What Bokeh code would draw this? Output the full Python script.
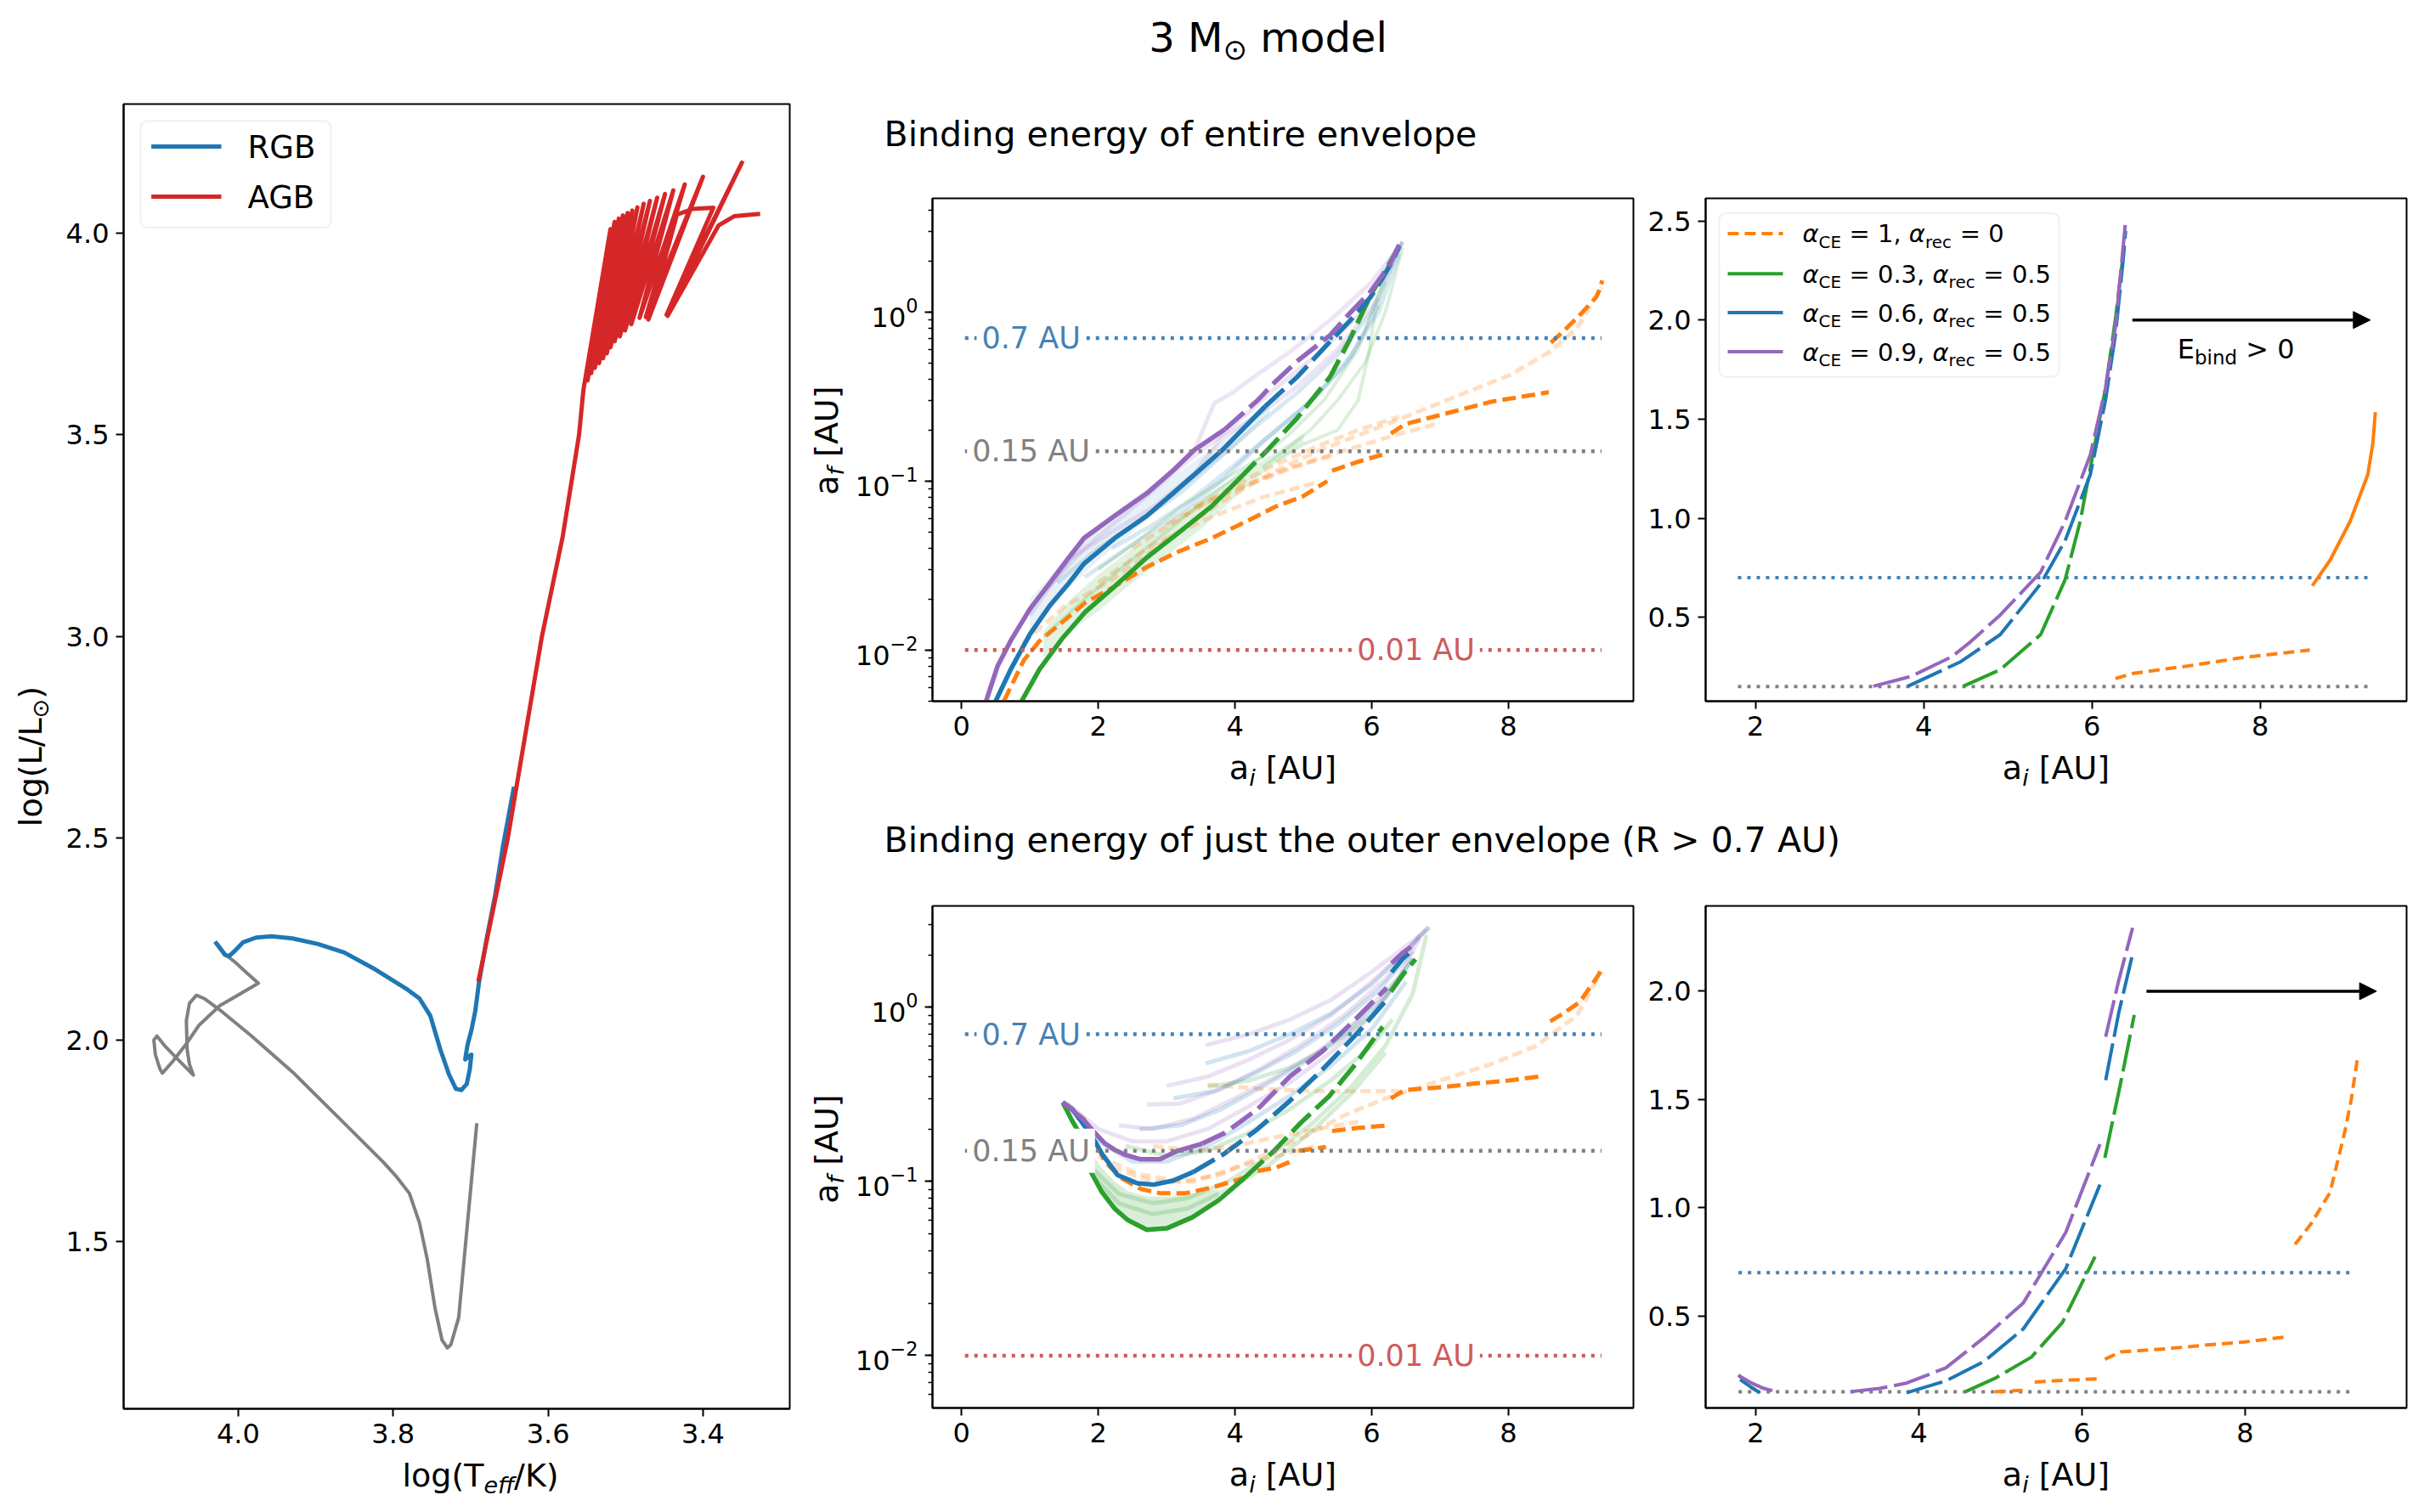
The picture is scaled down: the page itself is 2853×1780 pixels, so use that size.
import numpy as np
from bokeh.plotting import figure
from bokeh.layouts import row, column
from bokeh.models import Range1d, Label, BoxAnnotation, Arrow, NormalHead, PrintfTickFormatter
from bokeh.embed import file_html
from bokeh.resources import INLINE

FONT = "DejaVu Sans"
BLUE = "#1f77b4"; ORANGE = "#ff7f0e"; GREEN = "#2ca02c"; RED = "#d62728"
PURPLE = "#9467bd"; GRAY = "#808080"; STEEL = "#4682b4"; INDIAN = "#cd5c5c"

# ---------------- HR diagram (log Teff, log L) ----------------
pms_logT = [3.692, 3.7154, 3.7255, 3.730, 3.737, 3.746, 3.756, 3.766, 3.779, 3.796, 3.813, 3.870,
            3.930, 3.984, 4.024, 4.044, 4.054, 4.063, 4.067, 4.066, 4.063, 4.058, 4.078, 4.095,
            4.105, 4.109, 4.107, 4.101, 4.098, 4.085, 4.068, 4.051, 4.024, 3.997, 3.974, 3.987,
            4.004, 4.016, 4.028]
pms_logL = [1.794, 1.312, 1.245, 1.237, 1.257, 1.336, 1.457, 1.547, 1.620, 1.662, 1.698, 1.807,
            1.921, 2.012, 2.075, 2.103, 2.111, 2.091, 2.048, 1.976, 1.940, 1.913, 1.952, 1.986,
            2.010, 2.000, 1.964, 1.928, 1.918, 1.946, 1.988, 2.036, 2.085, 2.115, 2.141, 2.163,
            2.193, 2.211, 2.239]
rgb_logT = [4.030, 4.024, 4.017, 4.012, 4.005, 3.994, 3.977, 3.957, 3.930, 3.897, 3.863, 3.823,
            3.783, 3.766, 3.752, 3.739, 3.728, 3.719, 3.712, 3.705, 3.701, 3.699, 3.707, 3.704,
            3.699, 3.694, 3.689, 3.679, 3.668, 3.658, 3.644]
rgb_logL = [2.244, 2.229, 2.211, 2.208, 2.220, 2.242, 2.254, 2.257, 2.252, 2.238, 2.217, 2.175,
            2.127, 2.103, 2.060, 1.976, 1.915, 1.879, 1.876, 1.891, 1.928, 1.964, 1.952, 1.988,
            2.024, 2.072, 2.145, 2.254, 2.362, 2.483, 2.628]
agb_logT = [3.690, 3.652, 3.608, 3.581, 3.560, 3.5544, 3.5195, 3.5490, 3.5141, 3.5443, 3.5087,
            3.5396, 3.5034, 3.5342, 3.4973, 3.5289, 3.4913, 3.5242, 3.4846, 3.5195, 3.4765,
            3.5141, 3.4685, 3.5074, 3.4591, 3.5007, 3.4490, 3.4926, 3.4383, 3.4819, 3.4235,
            3.4738, 3.4000, 3.4705, 3.4336, 3.4134, 3.3866, 3.4470, 3.3497, 3.4456, 3.3799,
            3.3597, 3.3262]
agb_logL = [2.145, 2.500, 3.000, 3.249, 3.500, 3.611, 4.010, 3.635, 4.028, 3.653, 4.036,
            3.666, 4.044, 3.678, 4.050, 3.690, 4.056, 3.702, 4.064, 3.717, 4.073,
            3.732, 4.080, 3.744, 4.088, 3.759, 4.097, 3.774, 4.106, 3.790, 4.121,
            3.792, 4.140, 3.786, 4.046, 4.060, 4.063, 3.798, 4.175, 3.795, 4.019,
            4.042, 4.048]
hr_xticks = [4.0, 3.8, 3.6, 3.4]
hr_yticks = [1.5, 2.0, 2.5, 3.0, 3.5, 4.0]
hr_legend_labels = ["RGB", "AGB"]

# ---------------- a_f vs a_i : binding energy of entire envelope ----------------
ent_p09_ai = [0.36, 0.525, 0.716, 1.00, 1.29, 1.57, 1.79, 2.24, 2.71, 3.09, 3.40, 3.85, 4.33, 4.55, 4.91, 5.39, 5.68, 5.98, 6.16, 6.28, 6.40]
ent_p09_af = [0.005, 0.008, 0.0113, 0.0175, 0.0249, 0.0353, 0.0459, 0.0622, 0.0845, 0.115, 0.152, 0.202, 0.30, 0.374, 0.512, 0.728, 0.984, 1.319, 1.654, 1.969, 2.50]
ent_p06_ai = [0.50, 0.72, 1.00, 1.29, 1.57, 1.79, 2.24, 2.71, 3.09, 3.47, 3.81, 4.44, 4.91, 5.39, 5.68, 5.98, 6.16, 6.28, 6.37, 6.40]
ent_p06_af = [0.005, 0.0077, 0.0124, 0.0183, 0.0249, 0.0324, 0.0459, 0.0622, 0.0845, 0.115, 0.152, 0.276, 0.413, 0.669, 0.886, 1.22, 1.594, 1.929, 2.30, 2.45]
ent_p03_ai = [0.88, 1.14, 1.48, 1.81, 2.24, 2.71, 3.19, 3.66, 4.04, 4.47, 4.91, 5.39, 5.68, 5.86, 6.01, 6.16, 6.28, 6.38]
ent_p03_af = [0.005, 0.0077, 0.0118, 0.0168, 0.0238, 0.0353, 0.050, 0.071, 0.101, 0.152, 0.236, 0.413, 0.689, 0.984, 1.319, 1.654, 2.008, 2.36]
ent_o_ai = [[0.62, 0.91, 1.14, 1.48, 1.81, 2.24, 2.71, 3.19, 3.66, 4.14, 4.61, 4.99, 5.35],
            [5.42, 5.80, 6.23],
            [6.28, 6.49, 7.17, 7.76, 8.59],
            [8.62, 8.83, 9.07, 9.28, 9.34, 9.37]]
ent_o_af = [[0.005, 0.0087, 0.0113, 0.0147, 0.0191, 0.0238, 0.031, 0.0385, 0.0459, 0.057, 0.071, 0.081, 0.100],
            [0.115, 0.130, 0.146],
            [0.191, 0.217, 0.256, 0.295, 0.335],
            [0.659, 0.787, 0.984, 1.22, 1.378, 1.535]]
# faint individual tracks and shaded spreads
ent_fp_ai = [[1.0, 1.3, 1.8, 2.4, 3.0, 3.4, 3.55, 3.7, 3.95, 4.3, 4.8, 5.4, 6.0, 6.45],
             [1.2, 1.8, 2.6, 3.3, 3.9, 4.5, 5.2, 5.8, 6.4],
             [1.6, 2.2, 2.8, 3.4, 3.8, 4.3, 4.9, 5.5, 6.1]]
ent_fp_af = [[0.016, 0.024, 0.045, 0.07, 0.105, 0.15, 0.21, 0.29, 0.33, 0.42, 0.58, 0.9, 1.5, 2.6],
             [0.022, 0.04, 0.075, 0.13, 0.2, 0.33, 0.56, 0.95, 2.4],
             [0.035, 0.05, 0.07, 0.11, 0.18, 0.24, 0.36, 0.6, 1.2]]
ent_fb_ai = [[1.4, 2.0, 2.6, 3.2, 3.8, 4.3, 4.9, 5.5, 6.0, 6.45],
             [1.8, 2.5, 3.2, 3.8, 4.4, 5.0, 5.6, 6.1, 6.4],
             [2.2, 2.8, 3.4, 4.0, 4.6, 5.2, 5.7, 6.1]]
ent_fb_af = [[0.025, 0.04, 0.058, 0.085, 0.14, 0.21, 0.33, 0.56, 1.0, 2.6],
             [0.027, 0.042, 0.065, 0.1, 0.17, 0.27, 0.48, 1.0, 2.2],
             [0.04, 0.055, 0.08, 0.125, 0.2, 0.32, 0.55, 1.1]]
ent_fg_ai = [[1.2, 1.8, 2.4, 3.0, 3.6, 4.2, 4.8, 5.3, 5.8, 6.1, 6.45],
             [4.4, 4.8, 5.1, 5.5, 5.9, 6.2, 6.45],
             [4.6, 5.0, 5.5, 5.8, 5.95, 6.05, 6.2],
             [2.0, 2.6, 3.2, 3.8, 4.4]]
ent_fg_af = [[0.012, 0.02, 0.032, 0.05, 0.08, 0.12, 0.19, 0.3, 0.6, 1.3, 2.6],
             [0.12, 0.16, 0.2, 0.3, 0.5, 1.0, 2.4],
             [0.13, 0.165, 0.2, 0.3, 0.55, 1.0, 1.5],
             [0.03, 0.045, 0.07, 0.1, 0.14]]
ent_fo_ai = [[0.9, 1.5, 2.2, 3.0, 3.8, 4.5, 5.2, 6.0, 7.0, 8.0, 8.6, 9.0, 9.36],
             [2.5, 3.2, 3.8, 4.5, 5.2, 5.8, 6.4],
             [3.0, 3.6, 4.2, 4.8, 5.4],
             [2.0, 2.8, 3.6, 4.4, 5.2],
             [3.4, 4.0, 4.6, 5.2, 5.8, 6.4, 7.0]]
ent_fo_af = [[0.011, 0.018, 0.026, 0.045, 0.075, 0.11, 0.15, 0.2, 0.29, 0.42, 0.58, 0.8, 1.4],
             [0.04, 0.06, 0.085, 0.12, 0.16, 0.2, 0.24],
             [0.055, 0.075, 0.095, 0.12, 0.14],
             [0.025, 0.042, 0.06, 0.08, 0.098],
             [0.07, 0.09, 0.11, 0.135, 0.16, 0.19, 0.22]]
ent_band_g_ai = [1.2, 1.6, 2.0, 2.5, 3.0, 3.5, 4.0, 4.5, 5.0]
ent_band_g_lo = [0.009, 0.013, 0.017, 0.025, 0.036, 0.052, 0.08, 0.12, 0.17]
ent_band_g_hi = [0.013, 0.02, 0.028, 0.04, 0.056, 0.078, 0.105, 0.14, 0.19]
ent_band_b_ai = [1.0, 1.5, 2.0, 2.5, 3.0, 3.5, 4.0, 4.5]
ent_band_b_lo = [0.012, 0.022, 0.034, 0.05, 0.074, 0.11, 0.16, 0.25]
ent_band_b_hi = [0.02, 0.034, 0.052, 0.072, 0.1, 0.14, 0.2, 0.3]

# ---------------- a_f vs a_i : binding energy of outer envelope (R > 0.7 AU) ----------------
out_p09_ai = [1.48, 1.62, 1.79, 1.95, 2.10, 2.24, 2.40, 2.62, 2.90, 3.16, 3.52, 3.85, 4.33, 4.80, 5.28, 5.80, 6.22]
out_p09_af = [0.285, 0.258, 0.225, 0.19, 0.165, 0.152, 0.142, 0.134, 0.134, 0.150, 0.165, 0.19, 0.26, 0.40, 0.56, 0.885, 1.293]
out_p09b_ai = [6.29, 6.45, 6.62]
out_p09b_af = [1.79, 2.05, 2.293]
out_p06_ai = [1.48, 1.62, 1.81, 1.95, 2.05, 2.28, 2.57, 2.81, 3.09, 3.38, 3.85, 4.33, 4.80, 5.28, 5.80, 6.22]
out_p06_af = [0.285, 0.26, 0.206, 0.17, 0.145, 0.109, 0.0977, 0.0959, 0.101, 0.113, 0.145, 0.20, 0.29, 0.44, 0.718, 1.107]
out_p06b_ai = [6.29, 6.45, 6.62]
out_p06b_af = [1.589, 1.90, 2.172]
out_p03a_ai = [1.48, 1.62, 1.72]
out_p03a_af = [0.285, 0.222, 0.191]
out_p03_ai = [1.88, 2.05, 2.24, 2.43, 2.71, 3.00, 3.38, 3.76, 4.14, 4.57, 4.95, 5.38, 5.76, 6.16]
out_p03_af = [0.116, 0.0873, 0.0698, 0.0601, 0.0528, 0.0538, 0.0624, 0.078, 0.105, 0.150, 0.215, 0.31, 0.47, 0.774]
out_p03b_ai = [6.28, 6.47, 6.64]
out_p03b_af = [1.23, 1.57, 1.89]
out_o_ai = [[1.48, 1.79, 1.90, 2.02, 2.09, 2.33, 2.62, 2.90, 3.28, 3.66, 4.00, 4.23],
            [4.33, 4.60, 4.85],
            [4.93, 5.15, 5.33],
            [5.42, 5.80, 6.23],
            [6.28, 6.47, 7.03, 7.50, 8.00, 8.52],
            [8.61, 8.80, 9.04, 9.22, 9.30, 9.38]]
out_o_af = [[0.285, 0.228, 0.18, 0.152, 0.131, 0.105, 0.0906, 0.0857, 0.0857, 0.0923, 0.101, 0.109],
            [0.115, 0.120, 0.132],
            [0.150, 0.154, 0.158],
            [0.195, 0.203, 0.210],
            [0.300, 0.334, 0.348, 0.365, 0.380, 0.404],
            [0.830, 0.922, 1.070, 1.350, 1.500, 1.700]]
out_fp_ai = [[3.57, 4.2, 4.8, 5.4, 6.0, 6.6, 6.85], [3.0, 3.6, 4.2, 4.8, 5.4, 6.0, 6.6, 6.8],
             [2.71, 3.2, 3.8, 4.4, 5.0, 5.6, 6.2, 6.7], [2.3, 2.8, 3.4, 4.0, 4.6, 5.2, 5.8, 6.4, 6.7],
             [1.55, 2.0, 2.5, 3.0, 3.6, 4.2, 4.8, 5.4, 6.0, 6.5]]
out_fp_af = [[0.607, 0.7, 0.85, 1.1, 1.6, 2.4, 2.86], [0.354, 0.4, 0.5, 0.65, 0.9, 1.4, 2.3, 2.8],
             [0.277, 0.28, 0.34, 0.45, 0.62, 0.9, 1.45, 2.6], [0.21, 0.2, 0.23, 0.3, 0.4, 0.55, 0.85, 1.5, 2.5],
             [0.28, 0.2, 0.17, 0.17, 0.2, 0.27, 0.37, 0.55, 0.9, 1.6]]
out_fb_ai = [[3.57, 4.2, 4.8, 5.4, 6.0, 6.6, 6.83], [3.1, 3.7, 4.3, 4.9, 5.5, 6.1, 6.6],
             [2.6, 3.2, 3.8, 4.4, 5.0, 5.6, 6.2, 6.6], [1.6, 2.0, 2.5, 3.0, 3.6, 4.2, 4.8, 5.4, 6.0, 6.5]]
out_fb_af = [[0.476, 0.56, 0.7, 0.92, 1.35, 2.3, 2.9], [0.3, 0.33, 0.42, 0.56, 0.8, 1.25, 2.1],
             [0.2, 0.21, 0.26, 0.35, 0.48, 0.7, 1.15, 1.9], [0.26, 0.17, 0.13, 0.13, 0.16, 0.22, 0.31, 0.46, 0.75, 1.4]]
out_fg_ai = [[1.9, 2.3, 2.8, 3.3, 3.9, 4.5, 5.1, 5.7, 6.2, 6.6, 6.8], [1.9, 2.3, 2.8, 3.3, 3.9, 4.5, 5.1, 5.7, 6.2],
             [2.4, 3.0, 3.6, 4.2, 4.8, 5.4, 6.0, 6.3], [3.6, 4.2, 4.8, 5.4, 6.0, 6.3, 6.6]]
out_fg_af = [[0.12, 0.085, 0.075, 0.08, 0.1, 0.14, 0.21, 0.35, 0.6, 1.2, 2.6], [0.11, 0.075, 0.065, 0.07, 0.09, 0.125, 0.19, 0.32, 0.55],
             [0.16, 0.14, 0.15, 0.19, 0.26, 0.38, 0.6, 0.85], [0.35, 0.38, 0.45, 0.6, 0.9, 1.3, 1.9]]
out_fo_ai = [[2.0, 2.6, 3.2, 3.8, 4.4, 5.0, 5.6, 6.2, 7.0, 7.8, 8.4, 9.0, 9.36], [3.6, 4.4, 5.2, 6.0, 6.4],
             [2.8, 3.4, 4.0, 4.6, 5.2, 5.8], [2.2, 2.8, 3.4, 4.0, 4.6, 5.2]]
out_fo_af = [[0.14, 0.11, 0.1, 0.11, 0.14, 0.18, 0.24, 0.3, 0.38, 0.48, 0.6, 0.9, 1.6], [0.36, 0.34, 0.33, 0.33, 0.33],
             [0.16, 0.15, 0.16, 0.18, 0.2, 0.22], [0.12, 0.1, 0.1, 0.12, 0.14, 0.16]]
out_band_g_ai = [1.88, 2.05, 2.24, 2.43, 2.71, 3.00, 3.38, 3.76]
out_band_g_lo = [0.116, 0.0873, 0.0698, 0.0601, 0.0528, 0.0538, 0.0624, 0.078]
out_band_g_hi = [0.15, 0.12, 0.10, 0.088, 0.082, 0.082, 0.085, 0.09]

# reference separations [AU] and their extents
sep_levels = [0.7, 0.15, 0.01]
sep_labels = ["0.7 AU", "0.15 AU", "0.01 AU"]
sep_label_ai = [0.22, 0.08, 5.71]
mid_sep_extent = [0.05, 9.36]
top_right_sep_extent = [1.79, 9.31]
bot_right_sep_extent = [1.79, 9.35]
mid_xticks = [0, 2, 4, 6, 8]
right_xticks = [2, 4, 6, 8]
tr_yticks = [0.5, 1.0, 1.5, 2.0, 2.5]
br_yticks = [0.5, 1.0, 1.5, 2.0]
tr_arrow_ai = [6.48, 9.31]
br_arrow_ai = [6.79, 9.61]
arrow_af = 2.0
ebind_pos = [7.015, 1.807]
alpha_legend = [("1", "0"), ("0.3", "0.5"), ("0.6", "0.5"), ("0.9", "0.5")]

# ---------------- text helpers ----------------
CHAR_W = {' ': .318, '.': .318, ',': .318, '=': .838, '>': .838, '(': .390, ')': .390, '[': .390, ']': .390,
          '/': .337, 'a': .613, 'b': .635, 'c': .550, 'd': .635, 'e': .615, 'f': .352, 'g': .635, 'h': .634,
          'i': .278, 'j': .278, 'k': .579, 'l': .278, 'm': .974, 'n': .634, 'o': .612, 'p': .635, 'r': .411,
          's': .521, 't': .392, 'u': .634, 'v': .592, 'y': .592, 'A': .684, 'B': .686, 'C': .698, 'E': .632,
          'G': .775, 'K': .656, 'L': .557, 'M': .863, 'R': .695, 'T': .611, 'U': .732, 'α': .659, '⊙': .838}
for _d in "0123456789":
    CHAR_W[_d] = .636
MID = 0.346  # em-box middle above the baseline (DejaVu Sans)


def run_width(t, s):
    return sum(CHAR_W.get(c, 0.6) for c in t) * s


def rich(p, x, y, runs, dx=0.0, dy=0.0, align="left", rotate=False, color="black"):
    """(dx, dy) is the baseline start in screen pixels relative to data point (x, y)."""
    total = sum(run_width(t, s) for t, s, r, st in runs)
    adv = {"left": 0.0, "center": -total / 2.0, "right": -total}[align]
    for t, s, r, st in runs:
        lead = len(t) - len(t.lstrip(" "))
        core = t.strip(" ")
        adv += lead * CHAR_W[" "] * s
        up = r + MID * s
        if core:
            if rotate:
                xo, yo, ang = dx - up, dy + adv, np.pi / 2
            else:
                xo, yo, ang = dx + adv, dy + up, 0.0
            p.add_layout(Label(x=x, y=y, x_offset=xo, y_offset=yo, text=core, angle=ang,
                               text_font=FONT, text_font_size=f"{s}px", text_font_style=st,
                               text_color=color, text_align="left", text_baseline="middle"))
        adv += run_width(t, s) - lead * CHAR_W[" "] * s


def text_fig(w, h):
    p = figure(width=w, height=h, x_range=Range1d(0, w), y_range=Range1d(0, h),
               x_axis_type=None, y_axis_type=None, output_backend="svg", toolbar_location=None,
               min_border=0, min_border_left=0, min_border_right=0, min_border_top=0, min_border_bottom=0)
    p.outline_line_color = None
    p.background_fill_color = "white"
    p.border_fill_color = "white"
    return p


GEOM = {}


def panel(name, w, h, bl, br_, bt, bb, xr, yr, ylog=False, xticks=None, yticks=None, xfmt=None, yfmt=None):
    p = figure(width=w, height=h, x_range=Range1d(*xr), y_range=Range1d(*yr),
               y_axis_type="log" if ylog else "linear", output_backend="svg", toolbar_location=None,
               min_border_left=bl, min_border_right=br_, min_border_top=bt, min_border_bottom=bb)
    p.xgrid.visible = False
    p.ygrid.visible = False
    p.outline_line_color = "black"
    p.outline_line_width = 2
    p.outline_line_alpha = 1.0
    p.background_fill_color = "white"
    p.border_fill_color = "white"
    for ax in (p.xaxis[0], p.yaxis[0]):
        ax.axis_line_width = 2
        ax.axis_line_color = "black"
        ax.major_tick_line_width = 2
        ax.major_tick_line_color = "black"
        ax.major_tick_in = 0
        ax.major_tick_out = 9
        ax.minor_tick_in = 0
        ax.minor_tick_out = 0
        ax.major_label_text_font = FONT
        ax.major_label_text_font_size = "32px"
        ax.major_label_text_color = "black"
        ax.major_label_standoff = 8
    if ylog:
        p.yaxis[0].minor_tick_out = 5
        p.yaxis[0].minor_tick_line_width = 1.5
        p.yaxis[0].minor_tick_line_color = "black"
    if xticks is not None:
        p.xaxis[0].ticker = xticks
    if yticks is not None:
        p.yaxis[0].ticker = yticks
    if xfmt is not None:
        p.xaxis[0].formatter = PrintfTickFormatter(format=xfmt)
    if yfmt is not None:
        p.yaxis[0].formatter = PrintfTickFormatter(format=yfmt)
    GEOM[name] = (w - bl - br_, h - bt - bb)
    return p


def px_x(p, name, px):
    fw = GEOM[name][0]
    return p.x_range.start + px / fw * (p.x_range.end - p.x_range.start)


def px_y(p, name, py):
    fh = GEOM[name][1]
    return p.y_range.end - py / fh * (p.y_range.end - p.y_range.start)


AI_RUNS = [("a", 38, 0, "normal"), ("i", 27, -7, "italic"), (" [AU]", 38, 0, "normal")]
AF_RUNS = [("a", 38, 0, "normal"), ("f", 27, -6, "italic"), (" [AU]", 38, 0, "normal")]

# ================= figure pieces (page pixels: origin top-left) =================
title_fig = text_fig(2850, 90)
rich(title_fig, 1492, 30, [("3 M", 48, 0, "normal"), ("⊙", 34, -9, "normal"), (" model", 48, 0, "normal")],
     align="center")

# ---- left block: x 0..945, y 90..1776 ----
hr_ylab = text_fig(66, 1686)
rich(hr_ylab, 49, 886, [("log(L/L", 38, 0, "normal"), ("⊙", 27, -7, "normal"), (")", 38, 0, "normal")],
     align="center", rotate=True)

hr = panel("hr", 879, 1626, 79, 16, 32, 58, (4.148, 3.288), (1.086, 4.32), xticks=hr_xticks, yticks=hr_yticks,
           xfmt="%.1f", yfmt="%.1f")
hr.line(pms_logT, pms_logL, line_color=GRAY, line_width=4, line_join="round")
hr.line(rgb_logT, rgb_logL, line_color=BLUE, line_width=5, line_join="round")
hr.line(agb_logT, agb_logL, line_color=RED, line_width=5, line_join="round")
hr.add_layout(BoxAnnotation(left=px_x(hr, "hr", 20), right=px_x(hr, "hr", 244),
                            top=px_y(hr, "hr", 20), bottom=px_y(hr, "hr", 145.5),
                            fill_color="white", fill_alpha=0.8, line_color="#cccccc", line_width=2,
                            border_radius=8, level="underlay"))
for k, (lab, col) in enumerate(zip(hr_legend_labels, [BLUE, RED])):
    yy = 50 + 59 * k
    hr.line([px_x(hr, "hr", 32.6), px_x(hr, "hr", 115)], [px_y(hr, "hr", yy)] * 2, line_color=col, line_width=5)
    rich(hr, hr.x_range.start, hr.y_range.end, [(lab, 37, 0, "normal")], dx=146, dy=-(yy + 0.365 * 37))

hr_xlab = text_fig(879, 60)
rich(hr_xlab, 471, 26, [("log(T", 38, 0, "normal"), ("eff", 27, -7, "italic"), ("/K)", 38, 0, "normal")],
     align="center")


# ---- helpers for the a_f / a_i panels ----
def split_draw(p, xs, ys, split, color, lw=5.5, dash="30 9"):
    xs = np.asarray(xs, float)
    ys = np.asarray(ys, float)
    k = int(np.searchsorted(xs, split, side="right"))
    p.line(xs[:k + 1], ys[:k + 1], line_color=color, line_width=lw)
    p.line(xs[k:], ys[k:], line_color=color, line_width=lw, line_dash=dash)


def seps(p, extent, levels, colors, labels=None, label_x=None, lw=4.5):
    for i, (lv, col) in enumerate(zip(levels, colors)):
        p.line(extent, [lv, lv], line_color=col, line_width=lw, line_dash="4 7")
        if labels is not None:
            p.add_layout(Label(x=label_x[i], y=lv, text=labels[i], text_font=FONT, text_font_size="35px",
                               text_color=col, text_align="left", text_baseline="middle",
                               background_fill_color="white", padding=6))


def faint(p, xs, ys, col, dash="solid", alpha=0.2, lw=5):
    p.multi_line(xs, ys, line_color=col, line_alpha=alpha, line_width=lw, line_dash=dash)


def rview(xs, ys):
    xs = np.asarray(xs, float)
    ys = np.asarray(ys, float).copy()
    ys[(xs < 1.79) | (ys < 0.145)] = np.nan
    return xs, ys


# ---- right block: x 945..2850, y 90..1776 ----
sub1 = text_fig(1905, 110)
rich(sub1, 95, 28, [("Binding energy of entire envelope", 41, 0, "normal")])

tm_ylab = text_fig(57, 683)
rich(tm_ylab, 41, 354, AF_RUNS, align="center", rotate=True)

tm = panel("tm", 925, 683, 95, 5, 33, 58, (-0.4256, 9.827), (0.00498, 4.70), ylog=True, xticks=mid_xticks)
tm.varea(ent_band_g_ai, ent_band_g_lo, ent_band_g_hi, fill_color=GREEN, fill_alpha=0.14)
tm.varea(ent_band_b_ai, ent_band_b_lo, ent_band_b_hi, fill_color=BLUE, fill_alpha=0.1)
faint(tm, ent_fo_ai, ent_fo_af, ORANGE, dash="12 6", alpha=0.25)
faint(tm, ent_fg_ai, ent_fg_af, GREEN, alpha=0.17, lw=4)
faint(tm, ent_fb_ai, ent_fb_af, BLUE, alpha=0.17)
faint(tm, ent_fp_ai, ent_fp_af, PURPLE, alpha=0.17)
for xs, ys in zip(ent_o_ai, ent_o_af):
    tm.line(xs, ys, line_color=ORANGE, line_width=5, line_dash="16 7")
split_draw(tm, ent_p03_ai, ent_p03_af, 3.7, GREEN)
split_draw(tm, ent_p06_ai, ent_p06_af, 3.85, BLUE)
split_draw(tm, ent_p09_ai, ent_p09_af, 3.8, PURPLE)
seps(tm, mid_sep_extent, sep_levels, [STEEL, GRAY, INDIAN], sep_labels, sep_label_ai)

tr = panel("tr", 923, 683, 80, 18, 33, 58, (1.406, 9.741), (0.0765, 2.614), xticks=right_xticks, yticks=tr_yticks,
           yfmt="%.1f")
seps(tr, top_right_sep_extent, sep_levels[:2], [STEEL, GRAY], lw=4)
for i, (xs, ys) in enumerate(zip(ent_o_ai, ent_o_af)):
    rx, ry = rview(xs, ys)
    tr.line(rx, ry, line_color=ORANGE, line_width=4, line_dash="solid" if i == 3 else "13 7")
for xs, ys, col in [(ent_p03_ai, ent_p03_af, GREEN), (ent_p06_ai, ent_p06_af, BLUE), (ent_p09_ai, ent_p09_af, PURPLE)]:
    rx, ry = rview(xs, ys)
    tr.line(rx, ry, line_color=col, line_width=4, line_dash="44 8")
tr.add_layout(Arrow(end=NormalHead(size=20, fill_color="black", line_color="black"),
                    x_start=tr_arrow_ai[0], y_start=arrow_af, x_end=tr_arrow_ai[1], y_end=arrow_af,
                    line_color="black", line_width=3.5))
rich(tr, ebind_pos[0], ebind_pos[1], [("E", 32, 0, "normal"), ("bind", 23, -7, "normal"), (" > 0", 32, 0, "normal")])
tr.add_layout(BoxAnnotation(left=px_x(tr, "tr", 16), right=px_x(tr, "tr", 416),
                            top=px_y(tr, "tr", 17.5), bottom=px_y(tr, "tr", 210),
                            fill_color="white", fill_alpha=0.8, line_color="#cccccc", line_width=2,
                            border_radius=8, level="underlay"))
for k, ((ace, arec), col) in enumerate(zip(alpha_legend, [ORANGE, GREEN, BLUE, PURPLE])):
    yy = [41.4, 88.7, 134.6, 180.5][k]
    tr.line([px_x(tr, "tr", 26), px_x(tr, "tr", 91)], [px_y(tr, "tr", yy)] * 2, line_color=col,
            line_width=4, line_dash="13 7" if k == 0 else "solid")
    rich(tr, tr.x_range.start, tr.y_range.end,
         [("α", 29, 0, "italic"), ("CE", 20, -6, "normal"), (" = " + ace + ", ", 29, 0, "normal"),
          ("α", 29, 0, "italic"), ("rec", 20, -6, "normal"), (" = " + arec, 29, 0, "normal")],
         dx=114, dy=-(yy + 0.365 * 29))

xlab_top = text_fig(1905, 57)
rich(xlab_top, 564.5, 23, AI_RUNS, align="center")
rich(xlab_top, 1474.5, 23, AI_RUNS, align="center")

sub2 = text_fig(1905, 90)
rich(sub2, 95, 27, [("Binding energy of just the outer envelope (R > 0.7 AU)", 41, 0, "normal")])

bm_ylab = text_fig(57, 685)
rich(bm_ylab, 41, 353.5, AF_RUNS, align="center", rotate=True)

bm = panel("bm", 925, 685, 95, 5, 36, 58, (-0.4256, 9.827), (0.00501, 3.82), ylog=True, xticks=mid_xticks)
bm.varea(out_band_g_ai, out_band_g_lo, out_band_g_hi, fill_color=GREEN, fill_alpha=0.18)
faint(bm, out_fo_ai, out_fo_af, ORANGE, dash="12 6", alpha=0.25)
faint(bm, out_fg_ai, out_fg_af, GREEN)
faint(bm, out_fb_ai, out_fb_af, BLUE)
faint(bm, out_fp_ai, out_fp_af, PURPLE)
for xs, ys in zip(out_o_ai, out_o_af):
    bm.line(xs, ys, line_color=ORANGE, line_width=5, line_dash="16 7")
bm.line(out_p03a_ai, out_p03a_af, line_color=GREEN, line_width=5.5)
split_draw(bm, out_p03_ai, out_p03_af, 3.8, GREEN)
bm.line(out_p03b_ai, out_p03b_af, line_color=GREEN, line_width=5.5, line_dash="30 9")
split_draw(bm, out_p06_ai, out_p06_af, 3.3, BLUE)
bm.line(out_p06b_ai, out_p06b_af, line_color=BLUE, line_width=5.5, line_dash="30 9")
split_draw(bm, out_p09_ai, out_p09_af, 3.2, PURPLE)
bm.line(out_p09b_ai, out_p09b_af, line_color=PURPLE, line_width=5.5, line_dash="30 9")
seps(bm, mid_sep_extent, sep_levels, [STEEL, GRAY, INDIAN], sep_labels, sep_label_ai)

br = panel("br", 923, 685, 80, 18, 36, 58, (1.387, 9.978), (0.075, 2.394), xticks=right_xticks, yticks=br_yticks,
           yfmt="%.1f")
seps(br, bot_right_sep_extent, sep_levels[:2], [STEEL, GRAY], lw=4)
for xs, ys in zip(out_o_ai, out_o_af):
    rx, ry = rview(xs, ys)
    br.line(rx, ry, line_color=ORANGE, line_width=4, line_dash="13 7")
for xs, ys, col in [(out_p03_ai, out_p03_af, GREEN), (out_p03b_ai, out_p03b_af, GREEN),
                    (out_p06_ai, out_p06_af, BLUE), (out_p06b_ai, out_p06b_af, BLUE),
                    (out_p09_ai, out_p09_af, PURPLE), (out_p09b_ai, out_p09b_af, PURPLE)]:
    rx, ry = rview(xs, ys)
    br.line(rx, ry, line_color=col, line_width=4, line_dash="44 8")
br.add_layout(Arrow(end=NormalHead(size=20, fill_color="black", line_color="black"),
                    x_start=br_arrow_ai[0], y_start=arrow_af, x_end=br_arrow_ai[1], y_end=arrow_af,
                    line_color="black", line_width=3.5))

xlab_bot = text_fig(1905, 61)
rich(xlab_bot, 564.5, 27, AI_RUNS, align="center")
rich(xlab_bot, 1474.5, 27, AI_RUNS, align="center")

left_block = row(hr_ylab, column(hr, hr_xlab))
right_block = column(sub1, row(tm_ylab, tm, tr), xlab_top, sub2, row(bm_ylab, bm, br), xlab_bot)
layout = column(title_fig, row(left_block, right_block))

open("out.html", "w").write(file_html(layout, INLINE))
